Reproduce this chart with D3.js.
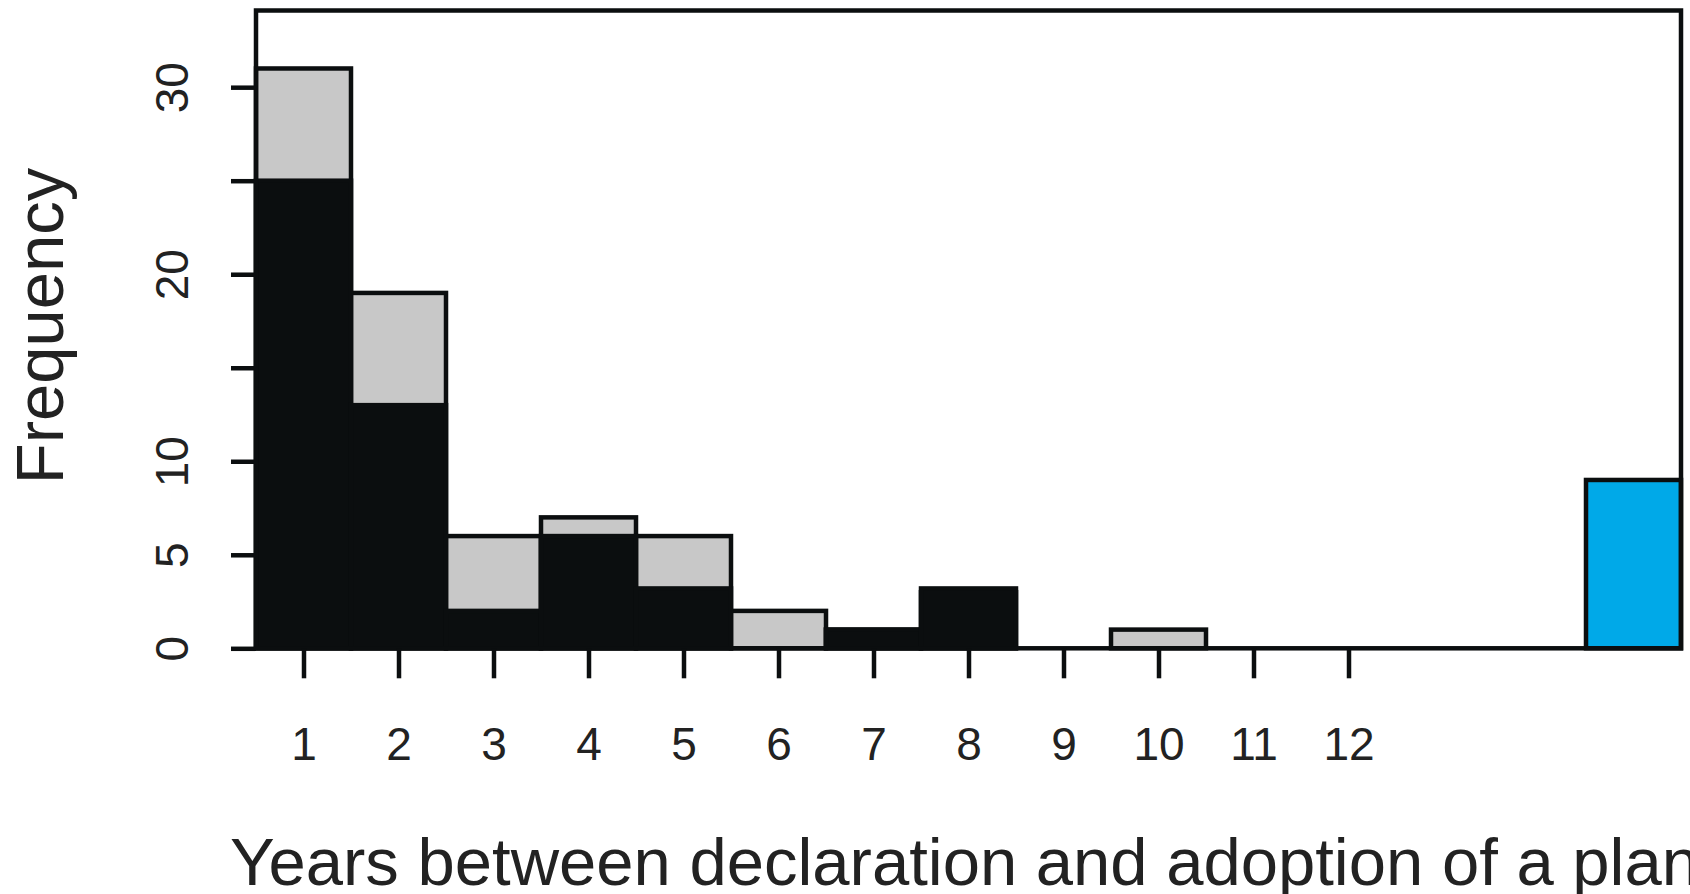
<!DOCTYPE html>
<html>
<head>
<meta charset="utf-8">
<script src="https://cdn.jsdelivr.net/npm/d3@7"></script>
<style>
  body { margin: 0; background: #fff; }
  svg { display: block; font-family: "Liberation Sans", Arial, sans-serif; }
</style>
</head>
<body>
<svg id="hist" width="1690" height="894"></svg>
<script>
// years between declaration and adoption (one bin per year)
var years = [1, 2, 3, 4, 5, 6, 7, 8, 9, 10, 11, 12, 13, 14];
// grey histogram (all cases) and black histogram drawn over it
var allCounts = [31, 19, 6, 7, 6, 2, 1, 3, 0, 1, 0, 0, 0, 0];
var subsetCounts = [25, 13, 2, 6, 3.2, 0, 1, 3.2, 0, 0, 0, 0, 0, 0];
// cases without an adopted plan, drawn in blue at the far right
var noPlanBin = 15;
var noPlanCount = 9;

var xTickValues = [1, 2, 3, 4, 5, 6, 7, 8, 9, 10, 11, 12];
var yTickValues = [0, 5, 10, 15, 20, 25, 30];
var yLabelled = [0, 5, 10, 20, 30];

var svg = d3.select("#hist");
var plotLeft = 256, plotRight = 1681, plotTop = 10.5, plotBottom = 648.3;

var x = d3.scaleLinear().domain([0.5, 15.5]).range([plotLeft, plotRight]);
var y = d3.scaleLinear().domain([0, 34.1]).range([plotBottom, plotTop]);

var ink = "#0b0e0f";
var lw = 4.5;

function drawBars(cls, counts, fill) {
  svg.append("g")
    .attr("class", cls)
    .selectAll("rect")
    .data(years.map(function(d, i) { return {bin: d, n: counts[i]}; }))
    .enter().append("rect")
    .attr("x", function(d) { return x(d.bin - 0.5); })
    .attr("width", function(d) { return x(d.bin + 0.5) - x(d.bin - 0.5); })
    .attr("y", function(d) { return y(d.n); })
    .attr("height", function(d) { return y(0) - y(d.n); })
    .style("fill", fill)
    .style("stroke", ink)
    .style("stroke-width", lw);
}

drawBars("all", allCounts, "#c8c8c8");
drawBars("subset", subsetCounts, ink);

svg.append("rect")
  .attr("class", "no-plan")
  .attr("x", x(noPlanBin - 0.5))
  .attr("width", x(noPlanBin + 0.5) - x(noPlanBin - 0.5))
  .attr("y", y(noPlanCount))
  .attr("height", y(0) - y(noPlanCount))
  .style("fill", "#00a9e8")
  .style("stroke", ink)
  .style("stroke-width", lw);

// plot box
svg.append("rect")
  .attr("x", plotLeft)
  .attr("y", plotTop)
  .attr("width", plotRight - plotLeft)
  .attr("height", plotBottom - plotTop)
  .style("fill", "none")
  .style("stroke", ink)
  .style("stroke-width", lw);

// x axis
var xAxis = svg.append("g")
  .attr("transform", "translate(0," + plotBottom + ")")
  .call(d3.axisBottom(x).tickValues(xTickValues).tickSize(30).tickPadding(49).tickFormat(d3.format("d")));
xAxis.select(".domain").remove();
xAxis.selectAll("line").style("stroke", ink).style("stroke-width", lw);
xAxis.selectAll("text")
  .style("font-size", "46px")
  .style("fill", "#222")
  .style("font-family", "'Liberation Sans', Arial, sans-serif");

// y axis, labels turned like base R
var yAxis = svg.append("g")
  .attr("transform", "translate(" + plotLeft + ",0)")
  .call(d3.axisLeft(y).tickValues(yTickValues).tickSize(25)
    .tickFormat(function(d) { return yLabelled.indexOf(d) >= 0 ? d : ""; }));
yAxis.select(".domain").remove();
yAxis.selectAll("line").style("stroke", ink).style("stroke-width", lw);
yAxis.selectAll("text")
  .attr("x", null)
  .attr("dy", null)
  .attr("text-anchor", "middle")
  .attr("transform", "translate(-68,0) rotate(-90)")
  .style("font-size", "46px")
  .style("fill", "#222")
  .style("font-family", "'Liberation Sans', Arial, sans-serif");

// axis titles
svg.append("text")
  .attr("transform", "translate(63,326) rotate(-90)")
  .attr("text-anchor", "middle")
  .style("font-size", "67px")
  .style("fill", "#222")
  .text("Frequency");

svg.append("text")
  .attr("x", 230)
  .attr("y", 885)
  .style("font-size", "67px")
  .style("fill", "#222")
  .text("Years between declaration and adoption of a plan");
</script>
</body>
</html>
